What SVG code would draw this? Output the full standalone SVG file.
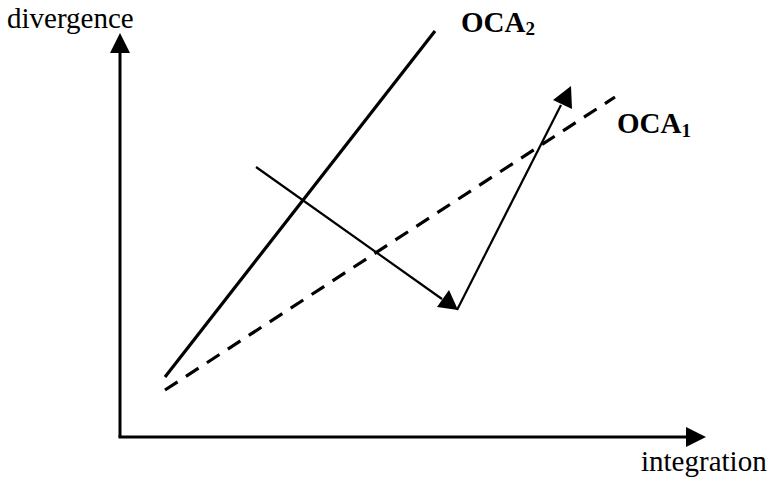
<svg xmlns="http://www.w3.org/2000/svg" width="772" height="485" viewBox="0 0 772 485">
<style>
.t{font-family:"Liberation Serif","Times New Roman",serif;font-size:29px;fill:#000}
.b{font-weight:bold;font-size:29px}
.ln{stroke:#000;fill:none}
</style>
<rect width="772" height="485" fill="#fff"/>
<g id="axes">
<path class="ln" d="M120,437 V52" stroke-width="3"/>
<path d="M120,33 L130,53 L110,53 z" fill="#000"/>
<path class="ln" d="M118.5,437 H687" stroke-width="3"/>
<path d="M706,437 L686,427 L686,447 z" fill="#000"/>
</g>
<g id="lines">
<path id="oca2-line" class="ln" d="M165,377 L435,31" stroke-width="3.2"/>
<path id="oca1-line" class="ln" d="M165,390 L615,97" stroke-width="3.2" stroke-dasharray="15,10"/>
</g>
<g id="path-arrows">
<path class="ln" d="M256,167 L442,299" stroke-width="2.2"/>
<path d="M458,310 L437,307 L449,290 z" fill="#000"/>
<path class="ln" d="M457,310 L561,105" stroke-width="2.2"/>
<path d="M571,86 L572,109 L553,100 z" fill="#000"/>
</g>
<g id="labels">
<text class="t" x="7" y="28">divergence</text>
<text class="t b" x="461" y="32">OCA<tspan font-size="19" dy="3">2</tspan></text>
<text class="t b" x="617" y="133">OCA<tspan font-size="19" dy="4">1</tspan></text>
<text class="t" x="641" y="471">integration</text>
</g>
</svg>
